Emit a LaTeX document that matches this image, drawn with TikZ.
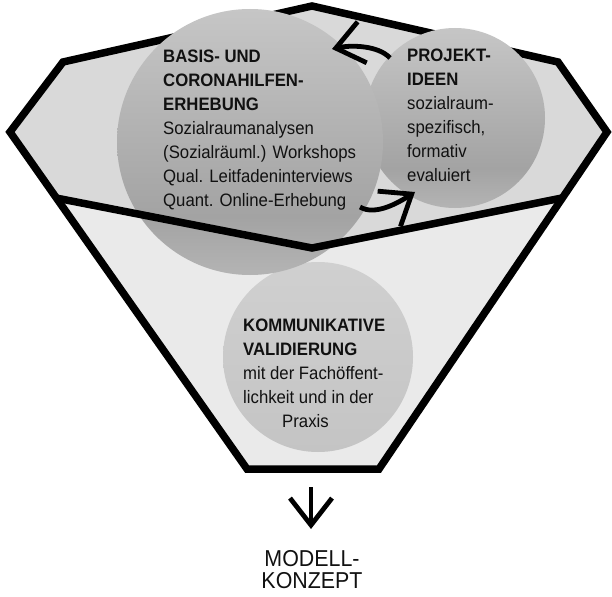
\documentclass[tikz,border=0pt]{standalone}
\usepackage{fontspec}
\setmainfont{Liberation Sans}[FakeStretch=0.93]
\usetikzlibrary{arrows.meta}
\definecolor{upfill}{HTML}{D9D9D9}
\definecolor{lowfill}{HTML}{EAEAEA}
\definecolor{cTop}{HTML}{C6C6C6}
\definecolor{cDark}{HTML}{A3A3A3}
\definecolor{cBot}{HTML}{B4B4B4}
\definecolor{kTop}{HTML}{D0D0D0}
\definecolor{kBot}{HTML}{C4C4C4}
\definecolor{txt}{HTML}{111111}
\pgfdeclareverticalshading{sphereA}{100bp}{color(0bp)=(cBot); color(25bp)=(cBot); color(36bp)=(cDark); color(75bp)=(cTop); color(100bp)=(cTop)}
\tikzset{
  funnelline/.style={draw=black, line width=7.5pt, line join=miter},
  ball/.style={circle, inner sep=0pt, draw=none},
  blk/.style={anchor=north west, inner sep=0pt, align=left, text=txt, font=\fontsize{18}{24}\selectfont},
  arr/.style={draw=black, line width=4.8pt, -{Straight Barb[length=27pt, width=42pt]}}
}
\begin{document}
\begin{tikzpicture}[x=1pt, y=-1pt]
\useasboundingbox (0,0) rectangle (612,596);
\fill[white] (0,0) rectangle (612,596);
% funnel regions
\fill[upfill] (63,62) -- (312,6) -- (558,62) -- (607,132) -- (562,198) -- (312,248) -- (56,198) -- (10,132) -- cycle;
\fill[lowfill] (56,198) -- (312,248) -- (562,198) -- (379,469) -- (247,469) -- cycle;
\draw[funnelline] (63,62) -- (312,6) -- (558,62) -- (607,132) -- (379,469) -- (247,469) -- (10,132) -- cycle;
% circles
\node[ball, minimum size=190pt, top color=kTop, bottom color=kBot] (c3) at (318,357) {};
\node[ball, minimum size=180pt, shade, shading=sphereA] (c2) at (455,118) {};
\node[ball, minimum size=266pt, shade, shading=sphereA] (c1) at (250,142) {};
% bowl line
\draw[funnelline] (56,198) -- (312,248) -- (562,198);
% texts
\node[blk] (t1) at (163,50.1) {\textbf{BASIS- UND}\\\textbf{CORONAHILFEN-}\\\textbf{ERHEBUNG}\\Sozialraumanalysen\\(Sozialräuml.) Workshops\\Qual. Leitfadeninterviews\\Quant. Online-Erhebung};
\node[blk] (t2) at (407,49.1) {\textbf{PROJEKT-}\\\textbf{IDEEN}\\sozialraum-\\spezifisch,\\formativ\\evaluiert};
\node[blk] (t3) at (243,319.1) {\textbf{KOMMUNIKATIVE}\\\textbf{VALIDIERUNG}\\mit der Fachöffent-\\lichkeit und in der\\\hspace*{39pt}Praxis};
\node[anchor=north, align=center, inner sep=0pt, text=txt, font=\fontsize{23}{22.5}\selectfont] (m) at (312,550) {MODELL-\\KONZEPT};
% arrows
\coordinate (a1) at (390,58);
\coordinate (a2) at (332,49);
\coordinate (b1) at (360,207);
\coordinate (b2) at (415,192);
\coordinate (d1) at (311,487);
\coordinate (d2) at (311,529);
\draw[arr] (a1) .. controls (378,45) and (350,45) .. (a2);
\draw[arr] (b1) .. controls (375,216) and (398,203) .. (b2);
\draw[arr] (d1) -- (d2);
\end{tikzpicture}
\end{document}
